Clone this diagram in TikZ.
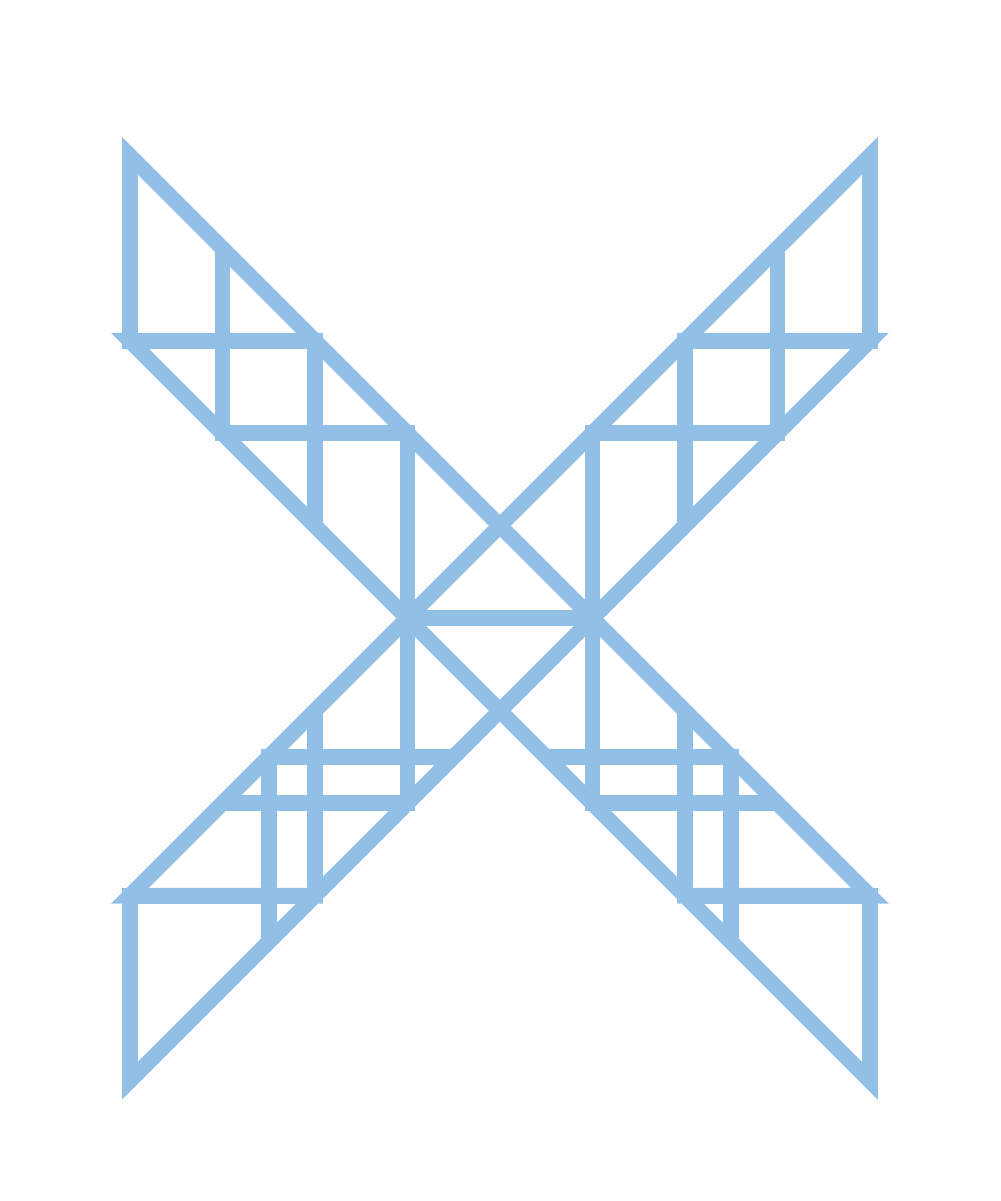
\documentclass[tikz,border=0pt]{standalone}
\usepackage{tikz}
\definecolor{barblue}{RGB}{145,191,230}

\begin{document}
\begin{tikzpicture}
    \tikzstyle{bar} = [line width=4.8pt,draw=barblue,line join=miter,line cap=butt]
    \useasboundingbox (-5.405,-6.30) rectangle (5.416,6.684);

    \draw[bar] (-4,3) -- (-4,5) -- (4,-3) -- (2,-3) -- (2,-1);
    \draw[bar] (-2,3) -- (-4,3) -- (4,-5) -- (4,-3);
    \draw[bar] (-4,5) -- (-4,3) -- (-2,3) -- (-2,1);

    \draw[bar] (4,3) -- (4,5) -- (-4,-3) -- (-2,-3) -- (-2,-1);
    \draw[bar] (2,3) -- (4,3) -- (-4,-5) -- (-4,-3);
    \draw[bar] (4,5) -- (4,3) -- (2,3) -- (2,1);

    \draw[bar] (-4,-5) -- (-4,-3) -- (-2,-3);
    \draw[bar] (4,-5) -- (4,-3) -- (2,-3);

    \draw[bar] (-3,4) -- (-3,2) -- (-1,2) -- (-1,-2) -- (-3,-2);
    \draw[bar] (3,4) -- (3,2) -- (1,2) -- (1,-2) -- (3,-2);
    \draw[bar] (-1,0) -- (1,0);

    \draw[bar] (-0.5,-1.5) -- (-2.5,-1.5) -- (-2.5,-3.5);
    \draw[bar] (0.5,-1.5) -- (2.5,-1.5) -- (2.5,-3.5);
  \end{tikzpicture}
\end{document}
